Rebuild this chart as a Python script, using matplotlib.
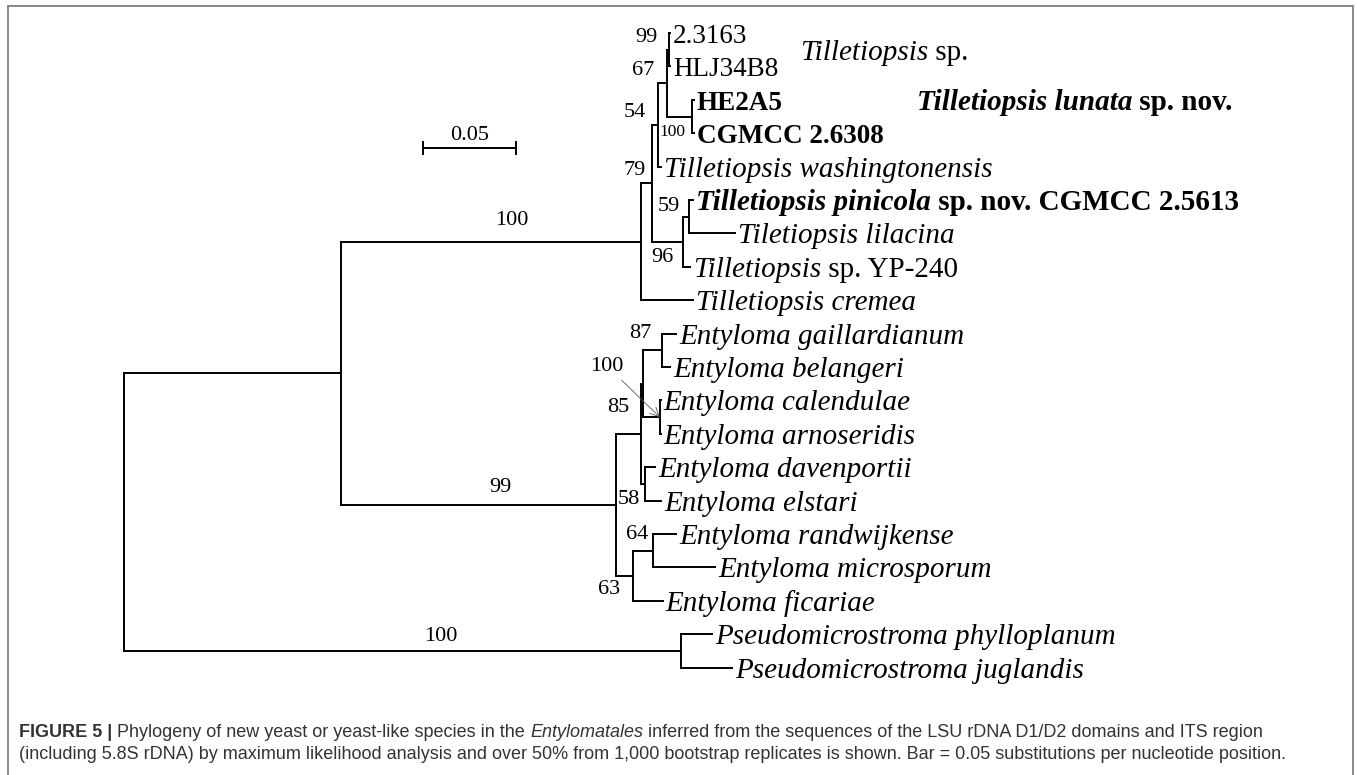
import matplotlib
matplotlib.use('Agg')
import matplotlib.pyplot as plt
from matplotlib.patches import Rectangle

# tree as parallel lists: node, parent, branch length (subst./site)
# children are drawn in the order they appear here
node_ids = ['root', 'A', 'pseudo', 'T', 'E', 'T79', 'cremea', 'T54', 'P96', 'T67', 'wash',
            'T99', 'st3163', 'hlj', 'H100', 'he2a5', 'cg6308', 'P59', 'pinicola', 'lilacina',
            'yp240', 'E2', 'E1', 'gb', 'gail', 'bel', 'ca', 'cal', 'arn', 'de', 'dav', 'els',
            'rmf', 'rm', 'rand', 'micro', 'fic', 'phyl', 'jug']
parents = [None, 'root', 'root', 'A', 'A', 'T', 'T', 'T79', 'T79', 'T54', 'T54',
           'T67', 'T99', 'T99', 'T67', 'H100', 'H100', 'P96', 'P59', 'P59',
           'P96', 'E', 'E2', 'E1', 'gb', 'gb', 'E1', 'ca', 'ca', 'E2', 'de', 'de',
           'E', 'rmf', 'rm', 'rm', 'rmf', 'pseudo', 'pseudo']
branch_len = [0.0, 0.1167, 0.2995, 0.1613, 0.1478, 0.0059, 0.0280, 0.0032, 0.0167, 0.0048, 0.0016,
              0.0011, 0.0005, 0.0005, 0.0134, 0.0010, 0.0010, 0.0032, 0.0022, 0.0247,
              0.0038, 0.0134, 0.0011, 0.0102, 0.0075, 0.0043, 0.0091, 0.0005, 0.0005, 0.0022, 0.0054, 0.0086,
              0.0091, 0.0108, 0.0124, 0.0333, 0.0161, 0.0167, 0.0274]

bootstrap_nodes = ['T99', 'T67', 'T54', 'T79', 'H100', 'P59', 'P96', 'T', 'E', 'pseudo',
                   'gb', 'ca', 'E2', 'de', 'rm', 'rmf']
bootstrap_vals = [99, 67, 54, 79, 100, 59, 96, 100, 99, 100, 87, 100, 85, 58, 64, 63]

# leaf labels: list of (text, style) pieces
leaf_labels = {
    'st3163': [('2.3163', 'r')],
    'hlj': [('HLJ34B8', 'r')],
    'he2a5': [('HE2A5', 'b')],
    'cg6308': [('CGMCC 2.6308', 'b')],
    'wash': [('Tilletiopsis washingtonensis', 'i')],
    'pinicola': [('Tilletiopsis pinicola', 'bi'), (' sp. nov. CGMCC 2.5613', 'b')],
    'lilacina': [('Tiletiopsis lilacina', 'i')],
    'yp240': [('Tilletiopsis', 'i'), (' sp. YP-240', 'r')],
    'cremea': [('Tilletiopsis cremea', 'i')],
    'gail': [('Entyloma gaillardianum', 'i')],
    'bel': [('Entyloma belangeri', 'i')],
    'cal': [('Entyloma calendulae', 'i')],
    'arn': [('Entyloma arnoseridis', 'i')],
    'dav': [('Entyloma davenportii', 'i')],
    'els': [('Entyloma elstari', 'i')],
    'rand': [('Entyloma randwijkense', 'i')],
    'micro': [('Entyloma microsporum', 'i')],
    'fic': [('Entyloma ficariae', 'i')],
    'phyl': [('Pseudomicrostroma phylloplanum', 'i')],
    'jug': [('Pseudomicrostroma juglandis', 'i')],
}
group_sp = [('Tilletiopsis', 'i'), (' sp.', 'r')]
group_lunata = [('Tilletiopsis lunata', 'bi'), (' sp. nov.', 'b')]

scale_len = 0.05
caption1 = [('FIGURE 5 |', 'b'), (' Phylogeny of new yeast or yeast-like species in the ', 'r'),
            ('Entylomatales', 'i'),
            (' inferred from the sequences of the LSU rDNA D1/D2 domains and ITS region', 'r')]
caption2 = [('(including 5.8S rDNA) by maximum likelihood analysis and over 50% from 1,000 '
             'bootstrap replicates is shown. Bar = 0.05 substitutions per nucleotide position.', 'r')]

# ---- layout ----
W, H = 1357, 775
ROOT_PX = 124
PX_PER_UNIT = 93 / 0.05
ROW0_PX, ROW_PX = 33, 33.4
SERIF = 'Liberation Serif'
SANS = 'Liberation Sans'
STYLES = {'r': ('normal', 'normal'), 'i': ('italic', 'normal'),
          'b': ('normal', 'bold'), 'bi': ('italic', 'bold')}

bs_offset = {'T99': (-23, 12), 'T67': (-24, 13), 'T54': (-23, 12), 'T79': (-17, 13),
             'H100': (-19, -15), 'P59': (-20, 10), 'P96': (-21, -16), 'T': (-129, 21),
             'E': (-116, 17), 'pseudo': (-240, 14), 'gb': (-22, 17), 'ca': (-53, 51),
             'E2': (-23, 26), 'de': (-16, -16), 'rm': (-16, 16), 'rmf': (-24, -14)}

# ---- compute coordinates ----
parent_of = dict(zip(node_ids, parents))
bl = dict(zip(node_ids, branch_len))
children = {n: [] for n in node_ids}
for n, p in zip(node_ids, parents):
    if p is not None:
        children[p].append(n)

xpos, ypos = {}, {}
leaf_counter = [0]


def layout(n, x0):
    xpos[n] = x0 + bl[n]
    if not children[n]:
        ypos[n] = leaf_counter[0]
        leaf_counter[0] += 1
    else:
        for c in children[n]:
            layout(c, xpos[n])
        ypos[n] = (ypos[children[n][0]] + ypos[children[n][-1]]) / 2


layout('root', 0.0)

fig = plt.figure(figsize=(W / 100, H / 100), dpi=100)
ax = fig.add_axes([0, 0, 1, 1])
ax.set_xlim(-ROOT_PX / PX_PER_UNIT, (W - ROOT_PX) / PX_PER_UNIT)
ax.set_ylim((H - ROW0_PX) / ROW_PX, -ROW0_PX / ROW_PX)
ax.axis('off')

lw = 1.4
for n in node_ids:
    p = parent_of[n]
    if p is not None:
        ax.plot([xpos[p], xpos[n]], [ypos[n], ypos[n]], color='black', lw=lw,
                solid_capstyle='projecting')
    if children[n]:
        ys = [ypos[c] for c in children[n]]
        ax.plot([xpos[n], xpos[n]], [min(ys), max(ys)], color='black', lw=lw,
                solid_capstyle='projecting')

renderer = fig.canvas.get_renderer()


def pieces(xy, xycoords, segs, dx, dy, size, family, color='black'):
    for txt, st in segs:
        style, weight = STYLES[st]
        t = ax.annotate(txt, xy=xy, xycoords=xycoords, xytext=(dx, dy),
                        textcoords='offset pixels', ha='left', va='baseline',
                        fontsize=size, family=family, style=style, weight=weight,
                        color=color)
        dx += t.get_window_extent(renderer).width


for leaf, segs in leaf_labels.items():
    size = 19.5 if leaf in ('st3163', 'hlj', 'he2a5', 'cg6308') else 21
    pieces((xpos[leaf], ypos[leaf]), 'data', segs, 3, -10, size, SERIF)

pieces((xpos['T99'], ypos['T99']), 'data', group_sp, 131, -10, 21, SERIF)
pieces((xpos['he2a5'], ypos['he2a5']), 'data', group_lunata, 223, -10, 21, SERIF)

for n, v in zip(bootstrap_nodes, bootstrap_vals):
    dx, dy = bs_offset[n]
    size = 12.5 if n == 'H100' else 16
    if n == 'ca':
        ax.annotate(str(v), xy=(xpos[n], ypos[n]), xytext=(dx, dy),
                    textcoords='offset pixels', ha='center', va='center',
                    fontsize=size, family=SERIF,
                    arrowprops=dict(arrowstyle='->', color='#555555', lw=0.6,
                                    shrinkA=2, shrinkB=0))
    else:
        ax.annotate(str(v), xy=(xpos[n], ypos[n]), xytext=(dx, dy),
                    textcoords='offset pixels', ha='center', va='center',
                    fontsize=size, family=SERIF)

# scale bar
sb_x0 = (423 - ROOT_PX) / PX_PER_UNIT
sb_y = (148 - ROW0_PX) / ROW_PX
tick = 6 / ROW_PX
ax.plot([sb_x0, sb_x0 + scale_len], [sb_y, sb_y], color='black', lw=lw)
ax.plot([sb_x0, sb_x0], [sb_y - tick, sb_y + tick], color='black', lw=lw)
ax.plot([sb_x0 + scale_len, sb_x0 + scale_len], [sb_y - tick, sb_y + tick], color='black', lw=lw)
ax.text(sb_x0 + scale_len / 2, sb_y - 13 / ROW_PX, str(scale_len), ha='center', va='center',
        fontsize=16, family=SERIF)

# caption
pieces((19, H - 731), 'figure pixels', caption1, 0, -6, 13, SANS, color='#333333')
pieces((19, H - 753), 'figure pixels', caption2, 0, -6, 13, SANS, color='#333333')

# frame
fig.patches.append(Rectangle((8 / W, -0.1), (1353 - 8) / W, 1.1 - 6 / H,
                             transform=fig.transFigure, fill=False,
                             edgecolor='#808080', lw=1.3))

fig.savefig('out.png', dpi=100)
